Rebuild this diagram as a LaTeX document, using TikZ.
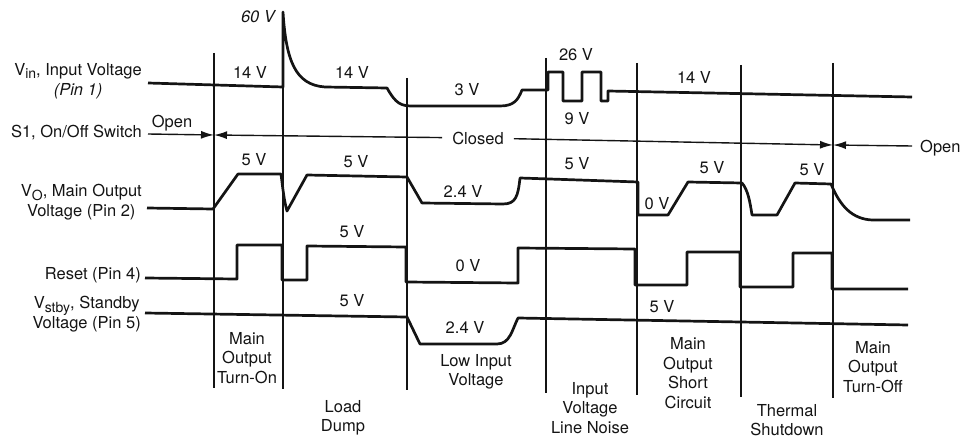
\documentclass[tikz,border=0pt]{standalone}
\usepackage{fontspec}
\setmainfont{TeX Gyre Heros}
\usetikzlibrary{arrows.meta,positioning}
\definecolor{ink}{HTML}{141414}
\newcommand{\lowsub}[1]{\raisebox{-0.4ex}{\fontsize{14}{14}\selectfont#1}}

\begin{document}
\begin{tikzpicture}[x=1pt,y=-1pt,>={Latex[length=13pt,width=8pt]},
  every node/.style={font=\fontsize{16.5}{19.5}\selectfont,text=ink,inner sep=0pt},
  signal/.style={ink,line width=2.7pt,line join=round},
  event/.style={ink,line width=1.2pt},
  switch/.style={ink,line width=1.4pt},
  sigtag/.style={anchor=east,align=center},
  phase/.style={align=center}]
\useasboundingbox (0,0) rectangle (960,438);
\draw[event] (214,53)--(214,388);
\draw[event] (283,87)--(283,389);
\draw[event] (407,78)--(407,390);
\draw[event] (546,58)--(546,393);
\draw[event] (637,63)--(637,395);
\draw[event] (741,65)--(741,397);
\draw[event] (833,63)--(833,398);
\node[sigtag] (vintag) at (142,81) {V\lowsub{in}, Input Voltage\\{\itshape (Pin 1)}};
\node[sigtag] (s1tag) at (142,133) {S1, On/Off Switch};
\node[sigtag] (votag) at (142,202) {V\lowsub{O}, Main Output\\Voltage (Pin 2)};
\node[sigtag] (rsttag) at (141,275) {Reset (Pin 4)};
\node[sigtag] (sbtag) at (141,314) {V\lowsub{stby}, Standby\\Voltage (Pin 5)};
\draw[signal] (148,83)--(283,87)--(283,12) .. controls (286,60) and (295,85) .. (325,87)--(387,88)
  .. controls (396,104) and (401,106) .. (413,106)--(500,106) .. controls (514,106) and (518,100) .. (522,90)
  --(548,90)--(548,72)--(563,72)--(563,101)--(582,101)--(582,72)--(601,72)--(601,101)--(608,101)--(608,91)--(912,97);
\node[font=\fontsize{16.5}{19.5}\selectfont\itshape] (vin60) at (258,17) {60 V};
\node (vin14a) at (250,72) {14 V};
\node (vin14b) at (352,72) {14 V};
\node (vin3) at (467,90) {3 V};
\node (vin26) at (576,55) {26 V};
\node (vin9) at (577,119) {9 V};
\node (vin14c) at (694,77) {14 V};
\coordinate (s1l) at (148,134);
\coordinate (s1on) at (214,135);
\coordinate (s1off) at (833,145);
\coordinate (s1r) at (912,146);
\node (open1) at (172,123) {Open};
\node[inner xsep=10pt] (closed) at (478,138) {Closed};
\node[anchor=west] (open2) at (920,148) {Open};
\draw[switch,->] (s1l)--(s1on);
\draw[switch,->] (closed)--(s1on);
\draw[switch,->] (closed)--(s1off);
\draw[switch,->] (s1r)--(s1off);
\draw[signal] (147,208)--(213,209)--(238,174)--(281,174) .. controls (283,190) and (284,200) .. (287,211)
  --(307,175)--(407,177)--(422,203)--(503,204) .. controls (516,204) and (518,196) .. (520,178)
  --(638,182)--(638,215)--(668,215)--(688,182)--(742,183) .. controls (748,190) and (750,202) .. (752,215)
  --(777,215)--(795,183)--(831,184) .. controls (840,206) and (852,219) .. (872,220)--(910,220);
\node (vo5a) at (254,160) {5 V};
\node (vo5b) at (356,162) {5 V};
\node (vo24) at (463,191) {2.4 V};
\node (vo5c) at (577,164) {5 V};
\node (vo0) at (657,204) {0 V};
\node (vo5d) at (712,168) {5 V};
\node (vo5e) at (812,170) {5 V};
\draw[signal] (145,278)--(237,279)--(237,245)--(282,245)--(282,280)--(307,280)--(307,246)--(406,247)
  --(406,282)--(518,283)--(518,248)--(635,249)--(635,285)--(687,285)--(687,252)--(740,252)--(740,287)
  --(793,287)--(793,253)--(832,253)--(832,289)--(908,289);
\node (rst5) at (352,232) {5 V};
\node (rst0) at (468,266) {0 V};
\draw[signal] (145,313)--(407,317)--(420,344)--(497,344) .. controls (510,344) and (512,330) .. (518,318)--(908,325);
\node (sb5a) at (352,301) {5 V};
\node (sb24) at (465,327) {2.4 V};
\node (sb5b) at (662,307) {5 V};
\node[phase] (turnon) at (247,358) {Main\\Output\\Turn-On};
\node[phase] (dump) at (343,418) {Load\\Dump};
\node[phase] (lowin) at (476,372) {Low Input\\Voltage};
\node[phase] (noise) at (590,408) {Input\\Voltage\\Line Noise};
\node[phase] (short) at (688,373) {Main\\Output\\Short\\Circuit};
\node[phase] (thermal) at (787,420) {Thermal\\Shutdown};
\node[phase] (turnoff) at (873,367) {Main\\Output\\Turn-Off};
\end{tikzpicture}
\end{document}
